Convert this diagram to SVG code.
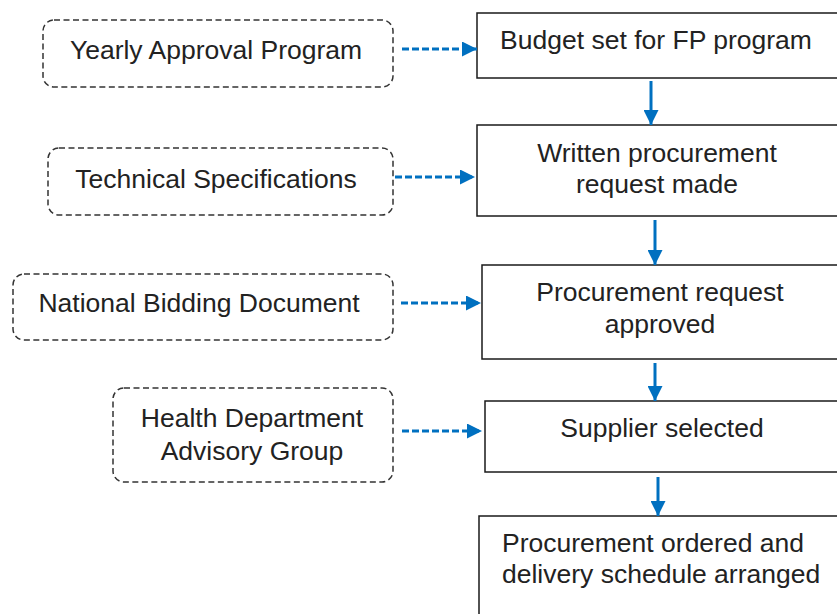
<svg xmlns="http://www.w3.org/2000/svg" width="837" height="614" viewBox="0 0 837 614">
  <defs>
    <marker id="head" viewBox="0 0 10 10" refX="10" refY="5" markerWidth="5" markerHeight="5" markerUnits="strokeWidth" orient="auto">
      <path d="M0,0 L10,5 L0,10 Z" fill="#0070C0"/>
    </marker>
    <style>
      .step { fill: #ffffff; stroke: #1a1a1a; stroke-width: 1.5; }
      .input { fill: #ffffff; stroke: #333333; stroke-width: 1.5; stroke-dasharray: 6 3.5; }
      .label { font-family: "Liberation Sans", Arial, sans-serif; font-size: 26.5px; fill: #222222; }
      .mid { text-anchor: middle; }
      .flow { stroke: #0070C0; stroke-width: 3; fill: none; marker-end: url(#head); }
      .feed { stroke: #0070C0; stroke-width: 3; fill: none; stroke-dasharray: 7 3; marker-end: url(#head); }
    </style>
  </defs>

  <rect width="837" height="614" fill="#ffffff"/>

  <!-- main process steps -->
  <g id="budget">
    <rect class="step" x="477" y="13" width="370" height="65"/>
    <text class="label mid" x="656" y="49">Budget set for FP program</text>
  </g>
  <g id="request">
    <rect class="step" x="477" y="125" width="370" height="91"/>
    <text class="label mid" x="657" y="162">Written procurement</text>
    <text class="label mid" x="657" y="193">request made</text>
  </g>
  <g id="approved">
    <rect class="step" x="482" y="265" width="370" height="94"/>
    <text class="label mid" x="660" y="301">Procurement request</text>
    <text class="label mid" x="660" y="333">approved</text>
  </g>
  <g id="supplier">
    <rect class="step" x="485" y="401" width="370" height="71"/>
    <text class="label mid" x="662" y="437">Supplier selected</text>
  </g>
  <g id="ordered">
    <rect class="step" x="479" y="516" width="370" height="110"/>
    <text class="label" x="502" y="552">Procurement ordered and</text>
    <text class="label" x="502" y="583">delivery schedule arranged</text>
  </g>

  <!-- inputs -->
  <g id="yearly">
    <rect class="input" x="43" y="20" width="350" height="67" rx="11"/>
    <text class="label mid" x="216" y="59">Yearly Approval Program</text>
  </g>
  <g id="technical">
    <rect class="input" x="48" y="148" width="345" height="67" rx="11"/>
    <text class="label mid" x="216" y="188">Technical Specifications</text>
  </g>
  <g id="bidding">
    <rect class="input" x="13" y="274" width="380" height="66" rx="11"/>
    <text class="label mid" x="199" y="312">National Bidding Document</text>
  </g>
  <g id="advisory">
    <rect class="input" x="113" y="388" width="280" height="94" rx="11"/>
    <text class="label mid" x="252" y="427">Health Department</text>
    <text class="label mid" x="252" y="460">Advisory Group</text>
  </g>

  <!-- connectors -->
  <g id="connectors">
    <line class="flow" x1="651" y1="81" x2="651" y2="125"/>
    <line class="flow" x1="655" y1="220" x2="655" y2="265"/>
    <line class="flow" x1="655" y1="363" x2="655" y2="401"/>
    <line class="flow" x1="658" y1="477" x2="658" y2="516"/>
    <line class="feed" x1="402" y1="49" x2="477" y2="49"/>
    <line class="feed" x1="395" y1="177" x2="475" y2="177"/>
    <line class="feed" x1="401" y1="303" x2="481" y2="303"/>
    <line class="feed" x1="402" y1="431" x2="482" y2="431"/>
  </g>
</svg>
